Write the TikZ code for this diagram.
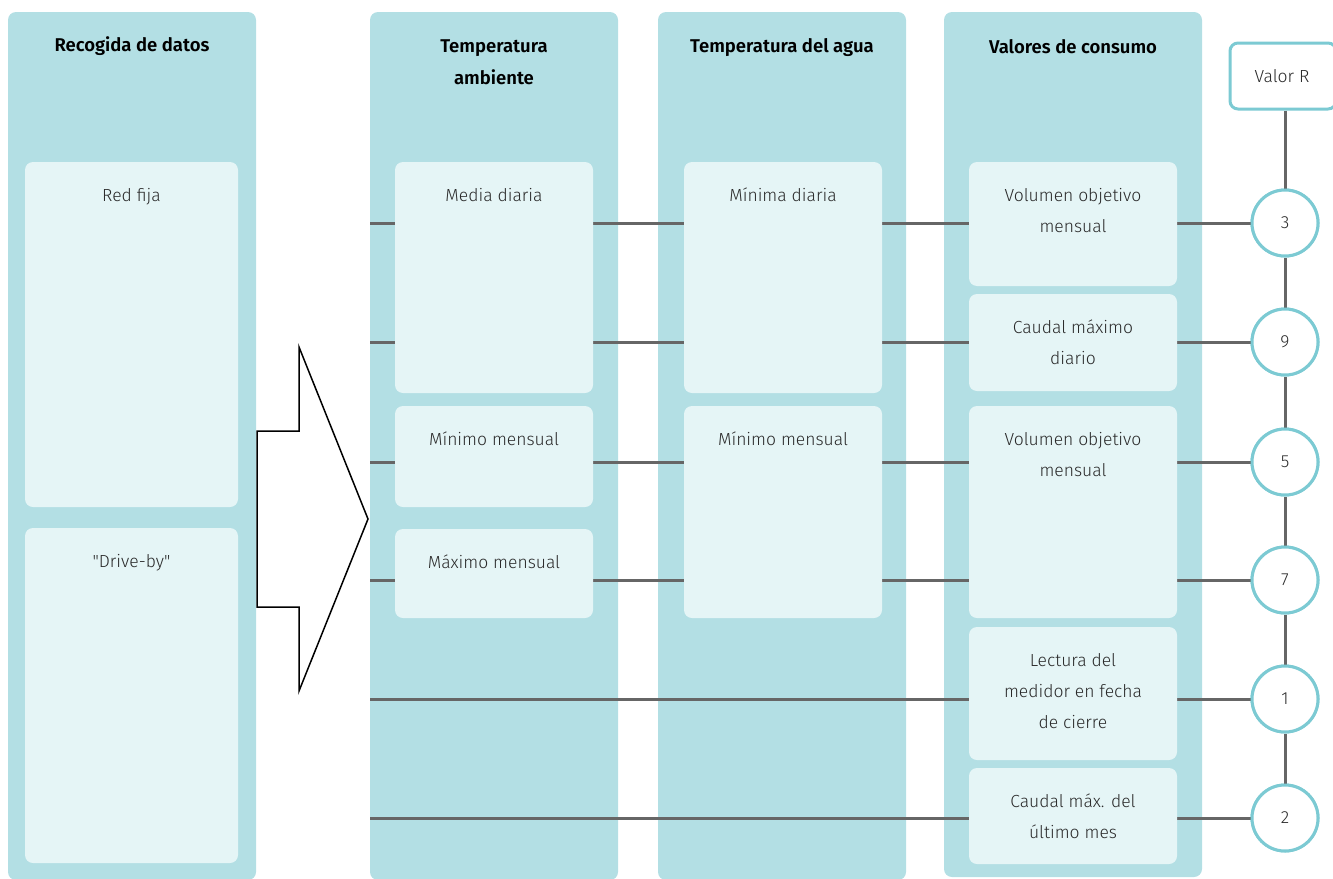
\documentclass[tikz,border=0pt]{standalone}
\usepackage{fontspec}
\IfFontExistsTF{Fira Sans Book}{\setmainfont{Fira Sans Book}[BoldFont={Fira Sans SemiBold}]}{\IfFontExistsTF{Fira Sans Light}{\setmainfont{Fira Sans Light}[BoldFont={Fira Sans SemiBold}]}{\setmainfont{Fira Sans}}}
\definecolor{colbg}{HTML}{B3DFE4}
\definecolor{innerbg}{HTML}{E5F5F6}
\definecolor{ringc}{HTML}{7CCAD3}
\definecolor{linec}{HTML}{666666}
\definecolor{txtc}{HTML}{2A2A2A}
\tikzset{
  column/.style={fill=colbg, rounded corners=8pt, draw=none, inner sep=0pt},
  ibox/.style={fill=innerbg, rounded corners=8pt, draw=none, inner sep=0pt},
  itext/.style={inner sep=0pt, align=center, text=txtc, font=\fontsize{17.5}{31}\selectfont},
  head/.style={inner sep=0pt, align=center, text=black, font=\fontsize{18.5}{32}\selectfont\bfseries},
  rcirc/.style={circle, draw=ringc, line width=3pt, fill=white, minimum size=66pt, inner sep=0pt, text=txtc, font=\fontsize{17.5}{19}\selectfont},
  conn/.style={draw=linec, line width=3pt},
}
\newcommand\colbox[5]{\node[column, minimum width={(#4-#2)*1pt}, minimum height={(#5-#3)*1pt}] (#1) at ({(#2+#4)/2},{(#3+#5)/2}) {};}
\newcommand\ibox[6]{\node[ibox, minimum width={(#4-#2)*1pt}, minimum height={(#5-#3)*1pt}] (#1) at ({(#2+#4)/2},{(#3+#5)/2}) {};
  \node[itext, anchor=north] (#1t) at ({(#2+#4)/2},{#3+26}) {#6};}
\begin{document}
\begin{tikzpicture}[x=1pt, y=-1pt]
\useasboundingbox (0,0) rectangle (1333,878);
% columns
\colbox{c1}{8}{12}{256}{880}
\colbox{c2}{370}{12}{618}{880}
\colbox{c3}{658}{12}{906}{880}
\colbox{c4}{944}{12}{1202}{877}
\node[head] (h1) at (132,46) {Recogida de datos};
\node[head] (h2) at (494,62) {Temperatura\\ambiente};
\node[head] (h3) at (782,48) {Temperatura del agua};
\node[head] (h4) at (1073,47) {Valores de consumo};
% Valor R and circles
\node[draw=ringc, line width=3pt, fill=white, rounded corners=8pt, minimum width=106pt, minimum height=66pt, inner sep=0pt, text=txtc, font=\fontsize{17.5}{19}\selectfont] (vr) at (1283,76) {\hspace*{-2pt}Valor R};
\coordinate (y3) at (370,223);
\coordinate (y9) at (370,342);
\coordinate (y5) at (370,462);
\coordinate (y7) at (370,580);
\coordinate (y1) at (370,699);
\coordinate (y2) at (370,818);
\node[rcirc] (r3) at (1285,223) {3};
\node[rcirc] (r9) at (1285,342) {9};
\node[rcirc] (r5) at (1285,462) {5};
\node[rcirc] (r7) at (1285,580) {7};
\node[rcirc] (r1) at (1285,699) {1};
\node[rcirc] (r2) at (1285,818) {2};
% connectors (behind inner boxes)
\draw[conn] (vr.south -| r3) -- (r3) -- (r9) -- (r5) -- (r7) -- (r1) -- (r2);
\foreach \k in {3,9,5,7,1,2} {\draw[conn] (y\k) -- (r\k);}
% inner boxes
\ibox{a1}{25}{162}{238}{507}{Red fija}
\ibox{a2}{25}{528}{238}{863}{\addfontfeatures{Ligatures=TeXOff}"Drive-by"}
\ibox{b1}{395}{162}{593}{393}{Media diaria}
\ibox{b2}{395}{406}{593}{507}{Mínimo mensual}
\ibox{b3}{395}{529}{593}{618}{Máximo mensual}
\ibox{d1}{684}{162}{882}{393}{Mínima diaria}
\ibox{d2}{684}{406}{882}{618}{Mínimo mensual}
\ibox{e1}{969}{162}{1177}{286}{Volumen objetivo\\mensual}
\ibox{e2}{969}{294}{1177}{391}{Caudal máximo\\diario}
\ibox{e3}{969}{406}{1177}{618}{Volumen objetivo\\mensual}
\ibox{e4}{969}{627}{1177}{760}{Lectura del\\medidor en fecha\\de cierre}
\ibox{e5}{969}{768}{1177}{864}{Caudal máx. del\\último mes}
% redraw circles on top
\foreach \k/\yy in {3/223,9/342,5/462,7/580,1/699,2/818} {\node[rcirc] at (1285,\yy) {\k};}
% big arrow
\draw[black, line width=1.5pt, fill=white, line join=miter]
  (257,431) -- (299,431) -- (299,347) -- (368,519) -- (299,691) -- (299,607) -- (257,607) -- cycle;
\end{tikzpicture}
\end{document}
